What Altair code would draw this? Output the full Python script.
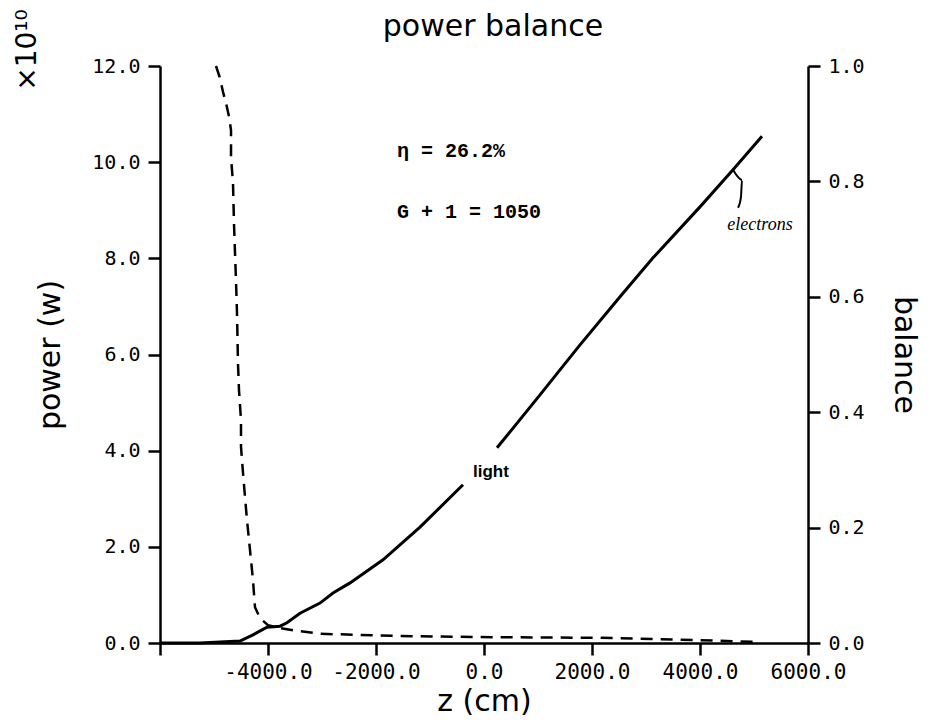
import altair as alt
import pandas as pd

# ---- data ----
# solid curve (power, left axis, units of 1e10 W); segment 1 after the "light" label gap
solid_z = [-6000, -5259, -4519, -4278, -4019, -3778, -3648, -3407, -3037, -2796, -2481,
           -1870, -1185, -389, 241, 1037, 1778, 2519, 3130, 4000, 4611, 5148]
solid_p = [0.0, 0.0, 0.04, 0.17, 0.33, 0.35, 0.42, 0.62, 0.83, 1.04, 1.25,
           1.73, 2.41, 3.29, 4.06, 5.16, 6.20, 7.20, 8.01, 9.07, 9.84, 10.54]
solid_seg = [0] * 14 + [1] * 8

# dashed curve (balance, right axis)
dash_z = [-4963, -4889, -4833, -4778, -4722, -4685, -4685, -4648, -4630, -4611, -4593,
          -4574, -4556, -4537, -4500, -4500, -4463, -4426, -4389, -4333, -4278, -4241,
          -4148, -4000, -3778, -3463, -3037, -1556, 296, 2148, 4000, 4981]
dash_b = [1.0, 0.979, 0.955, 0.936, 0.912, 0.889, 0.842, 0.797, 0.728, 0.676, 0.629,
          0.572, 0.485, 0.438, 0.386, 0.340, 0.295, 0.253, 0.213, 0.161, 0.109, 0.062,
          0.043, 0.031, 0.026, 0.021, 0.016, 0.012, 0.010, 0.009, 0.005, 0.002]

# annotations
note_text = ["η = 26.2%", "G + 1 = 1050"]
note_z = [-1611, -1611]
note_p = [10.11, 8.84]

light_text = ["light"]
light_z = [-204]
light_p = [3.45]

elec_text = ["electrons"]
elec_z = [5111]
elec_p = [8.59]

pointer_z = [4611, 4778, 4759, 4704]
pointer_p = [9.84, 9.63, 9.28, 9.05]

title_text = ["power balance"]
mult_text = ["×10¹⁰"]

x_ticks = [-6000, -4000, -2000, 0, 2000, 4000, 6000]
left_ticks = [0, 2, 4, 6, 8, 10, 12]
right_ticks = [0, 0.2, 0.4, 0.6, 0.8, 1.0]

# ---- tables ----
solid_df = pd.DataFrame({"z": solid_z, "p": solid_p, "seg": solid_seg,
                         "i": list(range(len(solid_z)))})
dash_df = pd.DataFrame({"z": dash_z, "b": dash_b, "i": list(range(len(dash_z)))})
note_df = pd.DataFrame({"t": note_text, "z": note_z, "p": note_p})
light_df = pd.DataFrame({"t": light_text, "z": light_z, "p": light_p})
elec_df = pd.DataFrame({"t": elec_text, "z": elec_z, "p": elec_p})
pointer_df = pd.DataFrame({"z": pointer_z, "p": pointer_p, "i": list(range(len(pointer_z)))})
mult_df = pd.DataFrame({"t": mult_text})
title_df = pd.DataFrame({"t": title_text})

LABEL_FONT = "DejaVu Sans Mono"
TITLE_FONT = "DejaVu Sans"

x_scale = alt.Scale(domain=[-6000, 6000], nice=False, zero=False)
p_scale = alt.Scale(domain=[0, 12], nice=False, zero=False)
b_scale = alt.Scale(domain=[0, 1], nice=False, zero=False)

x_axis = alt.Axis(values=x_ticks,
                  labelExpr="datum.value == -6000 ? '' : datum.value + '.0'",
                  title="z (cm)", grid=False, tickSize=12, tickWidth=2.5,
                  domainWidth=2.5, domainColor="black", tickColor="black",
                  labelFont=LABEL_FONT, labelFontSize=21, labelColor="black",
                  labelPadding=6, labelFlush=False,
                  titleFont=TITLE_FONT, titleFontSize=30, titleFontWeight="normal",
                  titleColor="black", titlePadding=4)

left_axis = alt.Axis(values=left_ticks, format=".1f", title="power (w)",
                     orient="left", grid=False, tickSize=12, tickWidth=2.5,
                     domainWidth=2.5, domainColor="black", tickColor="black",
                     labelFont=LABEL_FONT, labelFontSize=20, labelColor="black",
                     labelPadding=8, labelFlush=False,
                     titleFont=TITLE_FONT, titleFontSize=30, titleFontWeight="normal",
                     titleColor="black", titlePadding=26)

right_axis = alt.Axis(values=right_ticks, format=".1f", title="balance",
                      orient="right", grid=False, tickSize=12, tickWidth=2.5,
                      domainWidth=2.5, domainColor="black", tickColor="black",
                      labelFont=LABEL_FONT, labelFontSize=20, labelColor="black",
                      labelPadding=8, labelFlush=False,
                      titleFont=TITLE_FONT, titleFontSize=30, titleFontWeight="normal",
                      titleColor="black", titlePadding=24)

solid = alt.Chart(solid_df).mark_line(color="black", strokeWidth=3).encode(
    x=alt.X("z:Q", scale=x_scale, axis=x_axis),
    y=alt.Y("p:Q", scale=p_scale, axis=left_axis),
    detail="seg:N",
    order="i:Q",
)

notes = alt.Chart(note_df).mark_text(
    font="Liberation Mono", fontSize=20, fontWeight="bold", align="left",
    baseline="alphabetic", color="black"
).encode(x=alt.X("z:Q", scale=x_scale), y=alt.Y("p:Q", scale=p_scale), text="t:N")

light = alt.Chart(light_df).mark_text(
    font="Liberation Sans", fontSize=17, fontWeight="bold", align="left",
    baseline="alphabetic", color="black"
).encode(x=alt.X("z:Q", scale=x_scale), y=alt.Y("p:Q", scale=p_scale), text="t:N")

elec = alt.Chart(elec_df).mark_text(
    font="Liberation Serif", fontSize=18, fontStyle="italic", align="center",
    baseline="alphabetic", color="black"
).encode(x=alt.X("z:Q", scale=x_scale), y=alt.Y("p:Q", scale=p_scale), text="t:N")

pointer = alt.Chart(pointer_df).mark_line(color="black", strokeWidth=2, interpolate="monotone").encode(
    x=alt.X("z:Q", scale=x_scale), y=alt.Y("p:Q", scale=p_scale), order="i:Q"
)

mult = alt.Chart(mult_df).mark_text(
    font=TITLE_FONT, fontSize=28, angle=270, align="center", baseline="middle", color="black"
).encode(x=alt.value(-132), y=alt.value(-16), text="t:N")

title = alt.Chart(title_df).mark_text(
    font=TITLE_FONT, fontSize=30, align="center", baseline="alphabetic", color="black"
).encode(x=alt.value(333), y=alt.value(-30), text="t:N")

left_group = alt.layer(solid, pointer, notes, light, elec, mult, title)

dashed = alt.Chart(dash_df).mark_line(color="black", strokeWidth=2.5, strokeDash=[12, 8]).encode(
    x=alt.X("z:Q", scale=x_scale),
    y=alt.Y("b:Q", scale=b_scale, axis=right_axis),
    order="i:Q",
)

chart = alt.layer(left_group, dashed).resolve_scale(y="independent").properties(
    width=648,
    height=577,
    autosize=alt.AutoSizeParams(type="none"),
    padding={"left": 160, "top": 66, "right": 124, "bottom": 81},
    background="white",
).configure_view(stroke=None)

chart.save("out.html", embed_options={"renderer": "svg", "actions": False})
